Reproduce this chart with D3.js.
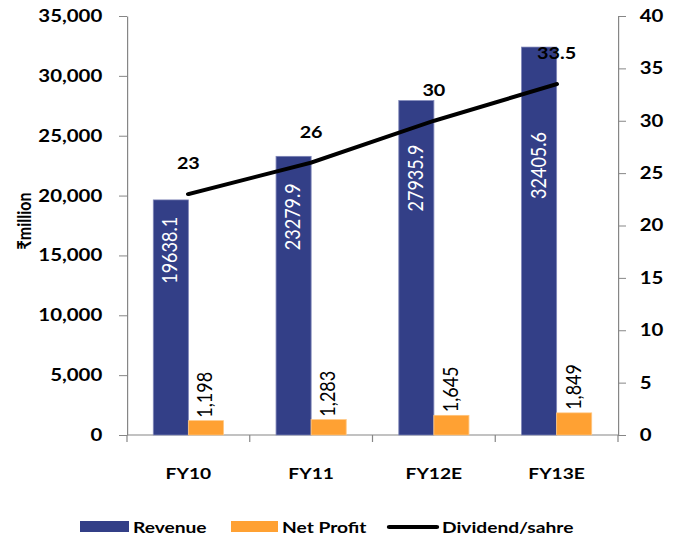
<!DOCTYPE html>
<html>
<head>
<meta charset="utf-8">
<script src="https://cdn.jsdelivr.net/npm/d3@7"></script>
<style>
  body { margin: 0; background: #fff; }
  text { font-family: Lato, "Noto Sans", sans-serif; }
</style>
</head>
<body>
<svg id="chart" width="678" height="537"></svg>
<script>
  const categories = ['FY10', 'FY11', 'FY12E', 'FY13E'];
  const revenue = [19638.1, 23279.9, 27935.9, 32405.6];
  const netProfit = [1198, 1283, 1645, 1849];
  const dividend = [23, 26, 30, 33.5];
  const leftTicks = [0, 5000, 10000, 15000, 20000, 25000, 30000, 35000];
  const rightTicks = [0, 5, 10, 15, 20, 25, 30, 35, 40];
  const seriesNames = ['Revenue', 'Net Profit', 'Dividend/sahre'];

  const blue = '#333f87';
  const orange = '#ffa133';
  const axisGrey = '#868686';

  // the whole picture is a bit stretched sideways, so draw in narrow coords and scale x
  const sx = 1.2;
  const svg = d3.select('#chart');
  const g = svg.append('g').attr('transform', `scale(${sx},1)`);

  const plotLeft = 127 / sx, plotRight = 618 / sx, plotTop = 16, plotBottom = 435;

  const x = d3.scaleBand().domain(categories).range([plotLeft, plotRight]).padding(0);
  const sub = d3.scaleBand().domain(['rev', 'np']).range([0, x.bandwidth()])
    .paddingInner(0).paddingOuter(0.75);
  const yL = d3.scaleLinear().domain([0, 35000]).range([plotBottom, plotTop]);
  const yR = d3.scaleLinear().domain([0, 40]).range([plotBottom, plotTop]);

  const data = categories.map((c, i) => ({
    cat: c, rev: revenue[i], np: netProfit[i], div: dividend[i]
  }));

  // left axis
  const axL = g.append('g').attr('transform', `translate(${plotLeft},0)`)
    .call(d3.axisLeft(yL).tickValues(leftTicks).tickFormat(d3.format(','))
      .tickSize(8 / sx).tickSizeOuter(0).tickPadding(14));
  axL.selectAll('text').style('font-size', '17px').style('font-weight', 'bold').attr('fill', '#000');

  // right axis
  const axR = g.append('g').attr('transform', `translate(${plotRight},0)`)
    .call(d3.axisRight(yR).tickValues(rightTicks)
      .tickSize(8 / sx).tickSizeOuter(0).tickPadding(11.5));
  axR.selectAll('text').style('font-size', '17px').style('font-weight', 'bold').attr('fill', '#000');

  [axL, axR].forEach(a => {
    a.select('.domain').attr('stroke', axisGrey);
    a.selectAll('.tick line').attr('stroke', axisGrey);
  });

  // category axis with ticks between groups
  const axB = g.append('g');
  axB.append('line')
    .attr('x1', plotLeft).attr('x2', plotRight).attr('y1', plotBottom).attr('y2', plotBottom)
    .attr('stroke', axisGrey);
  axB.selectAll('.sep').data(d3.range(categories.length + 1))
    .enter().append('line')
    .attr('x1', i => plotLeft + i * x.step()).attr('x2', i => plotLeft + i * x.step())
    .attr('y1', plotBottom).attr('y2', plotBottom + 7)
    .attr('stroke', axisGrey);
  axB.selectAll('.cat').data(categories)
    .enter().append('text')
    .attr('x', d => x(d) + x.bandwidth() / 2)
    .attr('y', 479)
    .attr('text-anchor', 'middle')
    .style('font-size', '16px').style('font-weight', 'bold')
    .text(d => d);

  // y title
  g.append('text')
    .attr('transform', `translate(${31 / sx},221) rotate(-90)`)
    .attr('text-anchor', 'middle')
    .style('font-size', '16px').style('font-weight', 'bold')
    .text('\u20B9million');

  // bars
  g.selectAll('.rev').data(data)
    .enter().append('rect')
    .attr('x', d => x(d.cat) + sub('rev'))
    .attr('y', d => yL(d.rev))
    .attr('width', sub.bandwidth())
    .attr('height', d => plotBottom - yL(d.rev))
    .attr('fill', blue)
    .attr('stroke', '#7f86b8').attr('stroke-width', 0.7);

  g.selectAll('.np').data(data)
    .enter().append('rect')
    .attr('x', d => x(d.cat) + sub('np'))
    .attr('y', d => yL(d.np))
    .attr('width', sub.bandwidth())
    .attr('height', d => plotBottom - yL(d.np))
    .attr('fill', orange)
    .attr('stroke', '#ffc680').attr('stroke-width', 0.7);

  // revenue labels sit inside the bars, moved down by hand in the original
  const revLabelDrop = [17, 27, 44, 85];
  g.selectAll('.revlab').data(data)
    .enter().append('text')
    .attr('transform', (d, i) =>
      `translate(${x(d.cat) + sub('rev') + sub.bandwidth() / 2 + 6.5 / sx},${yL(d.rev) + revLabelDrop[i]}) rotate(-90)`)
    .attr('text-anchor', 'end')
    .attr('fill', '#fff')
    .style('font-size', '18px')
    .text(d => d.rev.toFixed(1));

  g.selectAll('.nplab').data(data)
    .enter().append('text')
    .attr('transform', d =>
      `translate(${x(d.cat) + sub('np') + sub.bandwidth() / 2 + 6.5 / sx},${yL(d.np) - 3}) rotate(-90)`)
    .attr('text-anchor', 'start')
    .attr('fill', '#000')
    .style('font-size', '18px')
    .text(d => d3.format(',')(d.np));

  // dividend line
  const line = d3.line()
    .x(d => x(d.cat) + x.bandwidth() / 2)
    .y(d => yR(d.div));
  g.append('path').datum(data)
    .attr('d', line)
    .attr('fill', 'none')
    .attr('stroke', '#000')
    .attr('stroke-width', 4)
    .attr('stroke-linecap', 'round');

  g.selectAll('.divlab').data(data)
    .enter().append('text')
    .attr('x', d => x(d.cat) + x.bandwidth() / 2)
    .attr('y', d => yR(d.div) - 25)
    .attr('text-anchor', 'middle')
    .style('font-size', '16.5px').style('font-weight', 'bold')
    .text(d => d.div);

  // legend
  const lg = g.append('g');
  const legX = [80, 231, 388];
  const legW = [49, 47, 50];
  const legY = 527;
  seriesNames.forEach((name, i) => {
    const lx = legX[i] / sx;
    if (i < 2) {
      lg.append('rect')
        .attr('x', lx).attr('y', legY - 6)
        .attr('width', legW[i] / sx).attr('height', 11)
        .attr('fill', i === 0 ? blue : orange);
    } else {
      lg.append('line')
        .attr('x1', lx + 1).attr('x2', lx + legW[i] / sx - 1)
        .attr('y1', legY).attr('y2', legY)
        .attr('stroke', '#000').attr('stroke-width', 4)
        .attr('stroke-linecap', 'round');
    }
    lg.append('text')
      .attr('x', lx + (legW[i] + 4) / sx)
      .attr('y', legY + 6)
      .style('font-size', '16px').style('font-weight', 'bold')
      .text(name);
  });
</script>
</body>
</html>
